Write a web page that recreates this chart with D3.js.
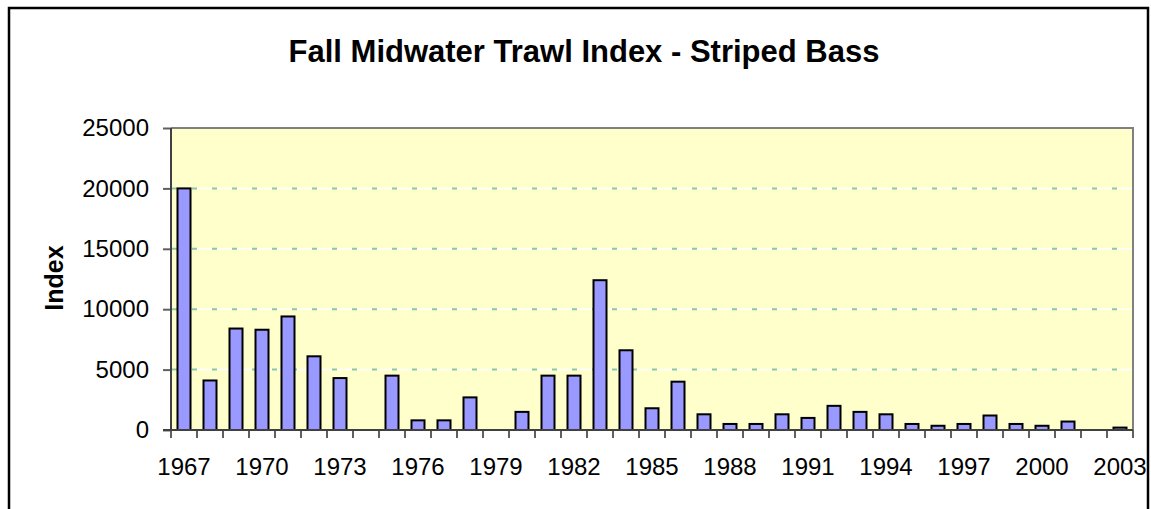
<!DOCTYPE html>
<html>
<head>
<meta charset="utf-8">
<script src="https://cdn.jsdelivr.net/npm/d3@7"></script>
<style>
    body { margin: 0; background: #fff; }
    svg { font-family: "Liberation Sans", Arial, sans-serif; }
    .axis path { display: none; }
    .axis text { font-size: 24px; fill: #000; }
</style>
</head>
<body>
<div id="chart"></div>
<script>

// chart data
let years = d3.range(1967, 2004).map(String);
let indexValues = [
    20000, 4100, 8400, 8300, 9400, 6100, 4300, 0, 4500, 800,
    800, 2700, 0, 1500, 4500, 4500, 12400, 6600, 1800, 4000,
    1300, 500, 500, 1300, 1000, 2000, 1500, 1300, 500, 350,
    500, 1200, 500, 350, 700, 0, 200
];
let yTicks = [0, 5000, 10000, 15000, 20000, 25000];
let xLabels = ["1967", "1970", "1973", "1976", "1979", "1982", "1985", "1988", "1991", "1994", "1997", "2000", "2003"];

let data = years.map((y, i) => ({year: y, value: indexValues[i]}));

let width = 1151, height = 509;
let plot = {left: 171, top: 128, right: 1133, bottom: 430};

let svg = d3.select("#chart").append("svg")
    .attr("width", width)
    .attr("height", height);

// outer frame
svg.append("rect")
    .attr("x", 9)
    .attr("y", 8)
    .attr("width", 1139)
    .attr("height", 520)
    .attr("fill", "none")
    .attr("stroke", "#000")
    .attr("stroke-width", 2.5);

// title
svg.append("text")
    .attr("x", 584)
    .attr("y", 62)
    .attr("text-anchor", "middle")
    .style("font-size", "31px")
    .style("font-weight", "bold")
    .text("Fall Midwater Trawl Index - Striped Bass");

// scales
let x = d3.scaleBand()
    .domain(years)
    .range([plot.left, plot.right])
    .paddingInner(0.5)
    .paddingOuter(0.25);

let y = d3.scaleLinear()
    .domain([0, 25000])
    .range([plot.bottom, plot.top]);

// plot background
svg.append("rect")
    .attr("x", plot.left)
    .attr("y", plot.top)
    .attr("width", plot.right - plot.left)
    .attr("height", plot.bottom - plot.top)
    .attr("fill", "#FFFFCC");

// gridlines: white line with green dashes
let grid = svg.append("g").attr("class", "grid");
grid.selectAll(".grid-base")
    .data(yTicks.slice(1, -1))
    .enter().append("line")
    .attr("x1", plot.left)
    .attr("x2", plot.right)
    .attr("y1", d => y(d))
    .attr("y2", d => y(d))
    .attr("stroke", "#fff")
    .attr("stroke-width", 1.5);
grid.selectAll(".grid-dash")
    .data(yTicks.slice(1, -1))
    .enter().append("line")
    .attr("x1", plot.left + 1)
    .attr("x2", plot.right)
    .attr("y1", d => y(d))
    .attr("y2", d => y(d))
    .attr("stroke", "#8CC8A0")
    .attr("stroke-width", 2)
    .attr("stroke-dasharray", "5,15");

// top and right border
svg.append("path")
    .attr("d", `M${plot.left},${plot.top}H${plot.right}V${plot.bottom}`)
    .attr("fill", "none")
    .attr("stroke", "#808080")
    .attr("stroke-width", 2);

// bars
svg.selectAll(".bar")
    .data(data.filter(d => d.value > 0))
    .enter().append("rect")
    .attr("class", "bar")
    .attr("x", d => x(d.year))
    .attr("y", d => y(d.value))
    .attr("width", x.bandwidth())
    .attr("height", d => y(0) - y(d.value))
    .attr("fill", "#9999FF")
    .attr("stroke", "#000")
    .attr("stroke-width", 2);

// y axis
let yAxis = d3.axisLeft(y)
    .tickValues(yTicks)
    .tickSize(8)
    .tickPadding(14)
    .tickFormat(d3.format("d"));

let yAxisGroup = svg.append("g")
    .attr("class", "axis y-axis")
    .attr("transform", `translate(${plot.left},0)`)
    .call(yAxis);
yAxisGroup.selectAll("line").attr("stroke", "#606060").attr("stroke-width", 2);

svg.append("line")
    .attr("x1", plot.left)
    .attr("x2", plot.left)
    .attr("y1", plot.top)
    .attr("y2", plot.bottom)
    .attr("stroke", "#404040")
    .attr("stroke-width", 2);

// x axis labels
let xAxis = d3.axisBottom(x)
    .tickValues(xLabels)
    .tickSize(0)
    .tickPadding(28);

svg.append("g")
    .attr("class", "axis x-axis")
    .attr("transform", `translate(0,${plot.bottom})`)
    .call(xAxis);

// x tick marks at category boundaries
let gap = (x.step() - x.bandwidth()) / 2;
let boundaries = years.map(yr => x(yr) - gap).concat([plot.right]);
svg.append("g")
    .selectAll("line")
    .data(boundaries)
    .enter().append("line")
    .attr("x1", d => d)
    .attr("x2", d => d)
    .attr("y1", plot.bottom)
    .attr("y2", plot.bottom + 8)
    .attr("stroke", "#606060")
    .attr("stroke-width", 2);

svg.append("line")
    .attr("x1", plot.left - 8)
    .attr("x2", plot.right)
    .attr("y1", plot.bottom)
    .attr("y2", plot.bottom)
    .attr("stroke", "#404040")
    .attr("stroke-width", 2);

// axis title
svg.append("text")
    .attr("transform", `translate(63,278) rotate(-90)`)
    .attr("text-anchor", "middle")
    .style("font-size", "25px")
    .style("font-weight", "bold")
    .text("Index");

</script>
</body>
</html>
